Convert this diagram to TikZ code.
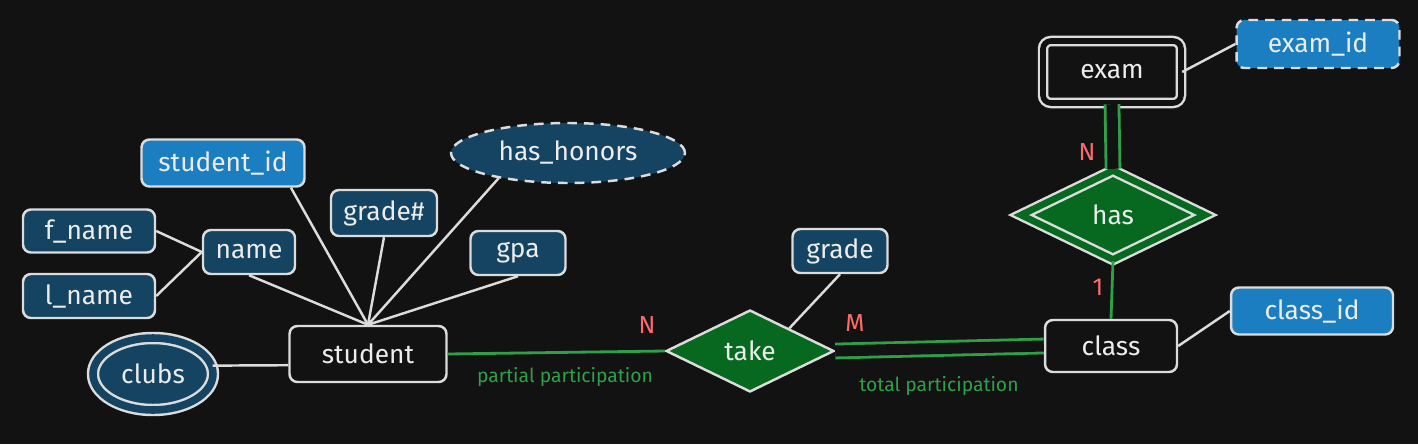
\documentclass[tikz,border=0pt]{standalone}
\usepackage{fontspec}
\setmainfont{Fira Sans}
\usepackage{tikz}
\usetikzlibrary{shapes.geometric}

\definecolor{bgdark}{HTML}{121212}
\definecolor{stroke}{HTML}{DCDCDC}
\definecolor{ink}{HTML}{ECECEC}
\definecolor{attrblue}{HTML}{144461}
\definecolor{keyblue}{HTML}{1B7EC0}
\definecolor{relgreen}{HTML}{06691F}
\definecolor{linegreen}{HTML}{2FA04A}
\definecolor{cardred}{HTML}{FF6B6B}

\begin{document}
\begin{tikzpicture}[x=0.02cm, y=-0.02cm,
    attr/.style={draw=stroke, fill=attrblue, line width=1.4pt, rounded corners=4.5pt,
      inner sep=0pt, text=ink, font=\fontsize{15}{18}\selectfont},
    keyattr/.style={attr, fill=keyblue},
    entity/.style={attr, fill=bgdark},
    oval/.style={ellipse, draw=stroke, fill=attrblue, line width=1.4pt, inner sep=0pt,
      text=ink, font=\fontsize{15}{18}\selectfont},
    rel/.style={diamond, draw=stroke, fill=relgreen, line width=1.4pt, inner sep=0pt,
      text=ink, font=\fontsize{15}{18}\selectfont},
    link/.style={draw=stroke, line width=1.4pt},
    part/.style={draw=linegreen, line width=1.6pt},
    total/.style={part, double=bgdark, double distance=6.3pt},
    card/.style={text=cardred, font=\fontsize{14}{16}\selectfont},
    note/.style={text=linegreen, font=\fontsize{11}{13}\selectfont}]

    % Canvas
    \fill[bgdark] (0,0) rectangle (1418,444);
    \useasboundingbox (0,0) rectangle (1418,444);

    % Entities
    \node[entity, minimum width=3.14cm, minimum height=1.12cm] (student) at (368,354) {student};
    \node[entity, minimum width=2.64cm, minimum height=1.04cm] (class) at (1111,346) {class};
    \node[entity, double=bgdark, double distance=3.2pt, minimum width=2.76cm, minimum height=1.24cm] (exam) at (1112,72) {exam};

    % Relationships
    \node[rel, minimum width=3.36cm, minimum height=1.64cm] (take) at (750,351) {take};
    \node[rel, double=relgreen, double distance=3.8pt, minimum width=3.7cm, minimum height=1.8cm] (has) at (1113,215) {has};

    % Attributes of student
    \node[keyattr, minimum width=3.26cm, minimum height=0.94cm] (student_id) at (223,163) {student\_id};
    \node[attr, minimum width=2.64cm, minimum height=0.86cm] (f_name) at (89,231) {f\_name};
    \node[attr, minimum width=2.64cm, minimum height=0.88cm] (l_name) at (89,296) {l\_name};
    \node[attr, minimum width=1.84cm, minimum height=0.88cm] (name) at (249,252) {name};
    \node[attr, minimum width=2.12cm, minimum height=0.92cm] (grade_no) at (384,213) {grade\#};
    \node[oval, dashed, dash pattern=on 5.5pt off 4pt, minimum width=4.68cm, minimum height=1.2cm] (has_honors) at (568,153) {has\_honors};
    \node[attr, minimum width=1.9cm, minimum height=0.88cm] (gpa) at (518,253) {gpa};
    \node[oval, double=attrblue, double distance=4.3pt, minimum width=2.4cm, minimum height=1.44cm] (clubs) at (153,374) {clubs};

    % Other attributes
    \node[attr, minimum width=1.9cm, minimum height=0.88cm] (grade) at (840,251) {grade};
    \node[keyattr, minimum width=3.24cm, minimum height=0.94cm] (class_id) at (1312,311) {class\_id};
    \node[keyattr, dashed, dash pattern=on 5.5pt off 4pt, minimum width=3.26cm, minimum height=0.96cm] (exam_id) at (1318,44) {exam\_id};

    % Attribute links
    \draw[link] (student_id.-20) -- (student.north);
    \draw[link] (name.south) -- (student.north);
    \draw[link] (grade_no.south) -- (student.north);
    \draw[link] (has_honors.-160) -- (student.north);
    \draw[link] (gpa.south) -- (student.north);
    \draw[link] (f_name.east) -- (name.west);
    \draw[link] (l_name.east) -- (name.west);
    \draw[link] (clubs.8) -- (student.-172);
    \draw[link] (grade.south) -- (take.30);
    \draw[link] (class.east) -- (class_id.west);
    \draw[link] (exam.east) -- (exam_id.west);

    % Participation
    \draw[part] (student.east) -- (take.west);
    \draw[total] (take.east) -- (class.west);
    \draw[part] (has.south) -- (class.north);
    \draw[total] (exam.south) -- (has.north);

    % Cardinalities
    \node[card] (card_n) at (647,325) {N};
    \node[card] (card_m) at (855,323) {M};
    \node[card] (card_exam) at (1087,152) {N};
    \node[card] (card_class) at (1098,287) {1};

    % Notes
    \node[note] (partial) at (565,377) {partial participation};
    \node[note] (total_note) at (939,386) {total participation};
\end{tikzpicture}
\end{document}
